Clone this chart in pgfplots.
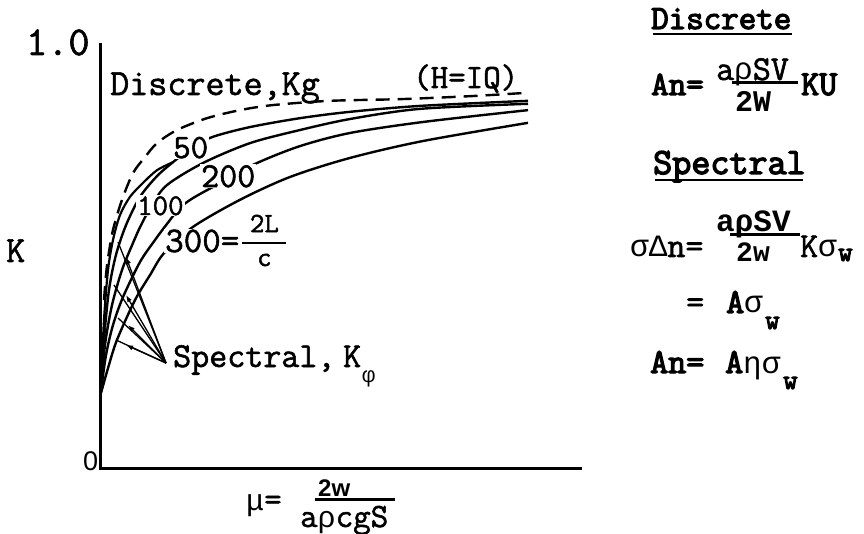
\documentclass[border=0pt]{standalone}
\usepackage{pgfplots}
\pgfplotsset{compat=1.18}
\usepackage{pgfplotstable}
\usepackage{amsmath}
\usepackage{fontspec}
\setmainfont{Liberation Mono}
\newfontfamily\sansf{Liberation Sans}
\newfontfamily\gr{Liberation Mono}
\newfontfamily\tw{Latin Modern Mono}[RawFeature={embolden=1.6}]
\newfontfamily\twb{Latin Modern Mono}[RawFeature={embolden=3.6}]
\usetikzlibrary{arrows.meta}

\newcommand{\fs}[1]{\fontsize{#1}{#1}\selectfont}

% mu measured from the K axis (arbitrary units), K = gust alleviation factor
\pgfplotstableread{
mu   K
4    0.397
6    0.456
8    0.496
13   0.563
22   0.634
33   0.697
45   0.735
57   0.768
77   0.799
107  0.827
140  0.846
173  0.858
230  0.868
300  0.872
370  0.879
427  0.887
}\discreteIQ

\pgfplotstableread{
mu   K
1    0.196
4    0.350
8    0.468
13   0.539
20   0.598
30   0.641
43   0.674
57   0.704
73   0.723
}\spectralIQ

\pgfplotstableread{
mu   K
1    0.184
4    0.303
9    0.421
16   0.504
26   0.574
40   0.641
57   0.690
73   0.723
93   0.759
113  0.783
150  0.806
200  0.827
250  0.842
320  0.856
428  0.868
}\kgfifty

\pgfplotstableread{
mu   K
1    0.184
5    0.291
12   0.385
22   0.468
33   0.532
41   0.574
52   0.622
67   0.669
103  0.721
150  0.768
200  0.799
250  0.825
320  0.849
428  0.861
}\kghundred

\pgfplotstableread{
mu   K
1    0.182
6    0.267
13   0.338
23   0.404
40   0.487
55   0.539
66   0.574
80   0.615
95   0.641
130  0.686
157  0.721
200  0.761
250  0.792
323  0.818
428  0.846
}\kgtwohundred

\pgfplotstableread{
mu   K
1    0.177
8    0.236
17   0.303
35   0.397
50   0.456
64   0.508
93   0.570
140  0.634
190  0.688
250  0.733
323  0.773
428  0.816
}\kgthreehundred

\begin{document}
\begin{tikzpicture}[x=1pt,y=1pt]
\useasboundingbox (0,0) rectangle (864,533);

\begin{axis}[
  at={(100pt,65pt)}, anchor=south west,
  scale only axis, width=480pt, height=423pt,
  xmin=0, xmax=480, ymin=0, ymax=1,
  axis lines=left,
  axis line style={-, line width=3pt, line cap=rect},
  xtick=\empty, ytick=\empty,
  clip=false,
]
\addplot[black, line width=2.4pt, smooth, dash pattern=on 14pt off 8pt]
  table[x=mu,y=K] {\discreteIQ};
\addplot[black, line width=2.2pt, smooth] table[x=mu,y=K] {\spectralIQ};
\addplot[black, line width=2.4pt, smooth] table[x=mu,y=K] {\kgfifty};
\addplot[black, line width=2.4pt, smooth] table[x=mu,y=K] {\kghundred};
\addplot[black, line width=2.4pt, smooth] table[x=mu,y=K] {\kgtwohundred};
\addplot[black, line width=2.4pt, smooth] table[x=mu,y=K] {\kgthreehundred};
\end{axis}

% axis annotations
\node[anchor=base west, inner sep=0, font=\tw\fs{41}] at (26,478) {1.0};
\node[anchor=base west, inner sep=0, font=\sansf\fs{27}] at (83,63) {0};
\node[anchor=base west, inner sep=0, font=\tw\fs{37}] at (6,271) {K};

% curve labels
\node[anchor=base west, inner sep=0, font=\tw\fs{37}] at (110,438) {Discrete,Kg};
\node[anchor=base west, inner sep=0, font=\tw\fs{34}] at (413,445) {(H=IQ)};
\node[anchor=base west, inner sep=1pt, fill=white, font=\tw\fs{34}] at (172,375) {50};
\node[anchor=base west, inner sep=1pt, fill=white, font=\tw\fs{30}] at (136,318) {100};
\node[anchor=base west, inner sep=1pt, fill=white, font=\tw\fs{35}] at (200,346) {200};
\node[anchor=base west, inner sep=1pt, fill=white, font=\tw\fs{36}] at (164,281) {300=};
\node[anchor=base west, inner sep=0, font=\tw\fs{28}] at (241,284)
  {$\genfrac{}{}{2pt}{0}{\hbox to 44pt{\hss 2L\hss}}{\hbox{c}}$};

% pointers to the spectral curves
\foreach \hx/\hy/\ex/\ey in {126/276/118/291, 126/238/114/248, 128/208/118/215, 126/188/116/193}{
  \draw[line width=1.3pt] (166,170) -- (\ex,\ey);
  \draw[line width=1.3pt, -{Latex[length=7pt,width=5pt]}] (166,170) -- (\hx,\hy);
}
\node[anchor=base west, inner sep=0, font=\tw\fs{35}] at (173,166) {Spectral,};
\node[anchor=base west, inner sep=0, font=\tw\fs{35}] at (343,166) {K};
\node[anchor=base west, inner sep=0, font=\gr\fs{22}] at (362,151) {φ};

% x-axis label
\node[anchor=base west, inner sep=0, font=\fs{30}] at (246,23) {μ\tw\fs{34}=};
\node[anchor=base west, inner sep=0, font=\sansf\bfseries\fs{24}] at (318,37) {2w};
\draw[line width=3pt] (315,34) -- (395,34);
\node[anchor=base west, inner sep=0, font=\tw\fs{34}] at (300,6) {a{\gr\fs{30}ρ}cgS};

% discrete gust formula
\node[anchor=base west, inner sep=0, font=\twb\fs{34}] at (651,504) {Discrete};
\draw[line width=2pt] (653,499) -- (792,499);
\node[anchor=base west, inner sep=0, font=\twb\fs{34}] at (651,438) {An=};
\node[anchor=base west, inner sep=0, font=\tw\fs{35}] at (716,453) {a{\gr\fs{31}ρ}SV};
\draw[line width=3pt] (732,450) -- (798,450);
\node[anchor=base west, inner sep=0, font=\bfseries\fs{30}] at (735,421) {2W};
\node[anchor=base west, inner sep=0, font=\twb\fs{35}] at (801,438) {KU};

% spectral (continuous turbulence) formulas
\node[anchor=base west, inner sep=0, font=\twb\fs{37}] at (653,359) {Spectral};
\draw[line width=2pt] (655,353) -- (803,353);
\node[anchor=base west, inner sep=0, font=\fs{31}] at (630,276) {σΔ\tw\fs{35}n=};
\node[anchor=base west, inner sep=0, font=\bfseries\fs{31}] at (716,301) {aρSV};
\draw[line width=3pt] (730,298) -- (800,298);
\node[anchor=base west, inner sep=0, font=\bfseries\fs{28}] at (736,271) {2w};
\node[anchor=base west, inner sep=0, font=\tw\fs{35}] at (800,276) {K{\gr\fs{31}σ}};
\node[anchor=base west, inner sep=0, font=\twb\fs{28}] at (838,272) {w};
\node[anchor=base west, inner sep=0, font=\tw\fs{35}] at (686,220) {=};
\node[anchor=base west, inner sep=0, font=\fs{31}] at (726,220) {{\twb\fs{35}A}σ};
\node[anchor=base west, inner sep=0, font=\twb\fs{28}] at (765,204) {w};
\node[anchor=base west, inner sep=0, font=\twb\fs{35}] at (650,160) {An=};
\node[anchor=base west, inner sep=0, font=\fs{31}] at (725,160) {{\twb\fs{35}A}ησ};
\node[anchor=base west, inner sep=0, font=\twb\fs{28}] at (783,144) {w};
\end{tikzpicture}
\end{document}
